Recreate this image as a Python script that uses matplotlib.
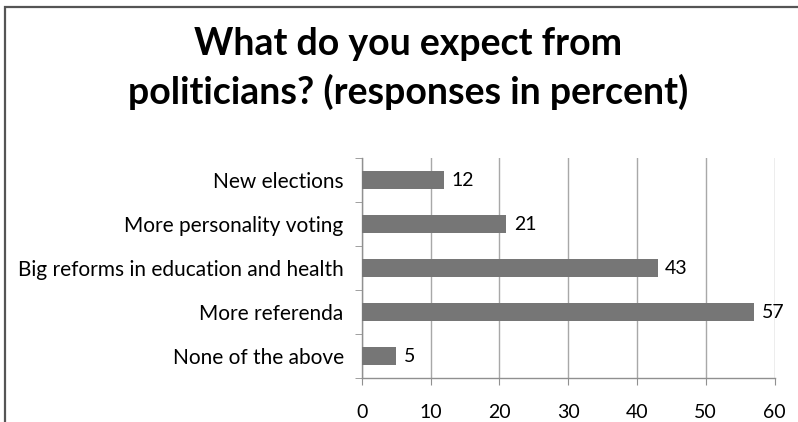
import matplotlib
matplotlib.use("Agg")
import matplotlib.pyplot as plt
from matplotlib.patches import Rectangle
import numpy as np

# survey answers, top to bottom as shown in the chart
categories = ["New elections", "More personality voting",
              "Big reforms in education and health", "More referenda",
              "None of the above"]
values = [12, 21, 43, 57, 5]
x_ticks = [0, 10, 20, 30, 40, 50, 60]
title_lines = ["What do you expect from", "politicians? (responses in percent)"]

plt.rcParams['font.family'] = ['Lato', 'DejaVu Sans']

W, H = 798, 422
fig = plt.figure(figsize=(W / 100, H / 100), dpi=100)
ax = fig.add_axes([361.7 / W, 1 - 378 / H, (774.5 - 361.7) / W, (378 - 158) / H])

# outer chart frame (only left and top edges are inside the picture)
fig.patches.append(Rectangle((4.5 / W, -0.1), 1.2, 1.1 - 6.5 / H,
                             transform=fig.transFigure, fill=False,
                             edgecolor="#555555", linewidth=1.6, clip_on=False))

pos = np.arange(len(categories))[::-1]
ax.barh(pos, values, height=0.4, color="#767676", zorder=3)
for p, v in zip(pos, values):
    ax.text(v + 1.1, p, str(v), va="center", ha="left", fontsize=14, color="black")

ax.set_xlim(0, 60)
ax.set_ylim(-0.5, len(categories) - 0.5)
ax.set_xticks(x_ticks)
ax.set_xticklabels([str(t) for t in x_ticks], fontsize=14)
ax.set_yticks(pos)
ax.set_yticklabels(categories, fontsize=15)
ax.set_yticks(np.arange(-0.5, len(categories)), minor=True)
ax.tick_params(axis="y", which="major", length=0, pad=13)
ax.tick_params(axis="y", which="minor", length=5, color="#909090", direction="out")
ax.tick_params(axis="x", length=5, color="#909090", direction="out", pad=14)

ax.grid(axis="x", color="#a8a8a8", linewidth=1.0, zorder=0)
for s in ["top", "right"]:
    ax.spines[s].set_visible(False)
for s in ["left", "bottom"]:
    ax.spines[s].set_color("#909090")
    ax.spines[s].set_linewidth(1.0)

for line, base in zip(title_lines, [55, 104]):
    fig.text(408 / W, 1 - base / H, line, ha="center", va="baseline",
             fontsize=27, fontweight="bold")

fig.savefig("out.png", dpi=100)
